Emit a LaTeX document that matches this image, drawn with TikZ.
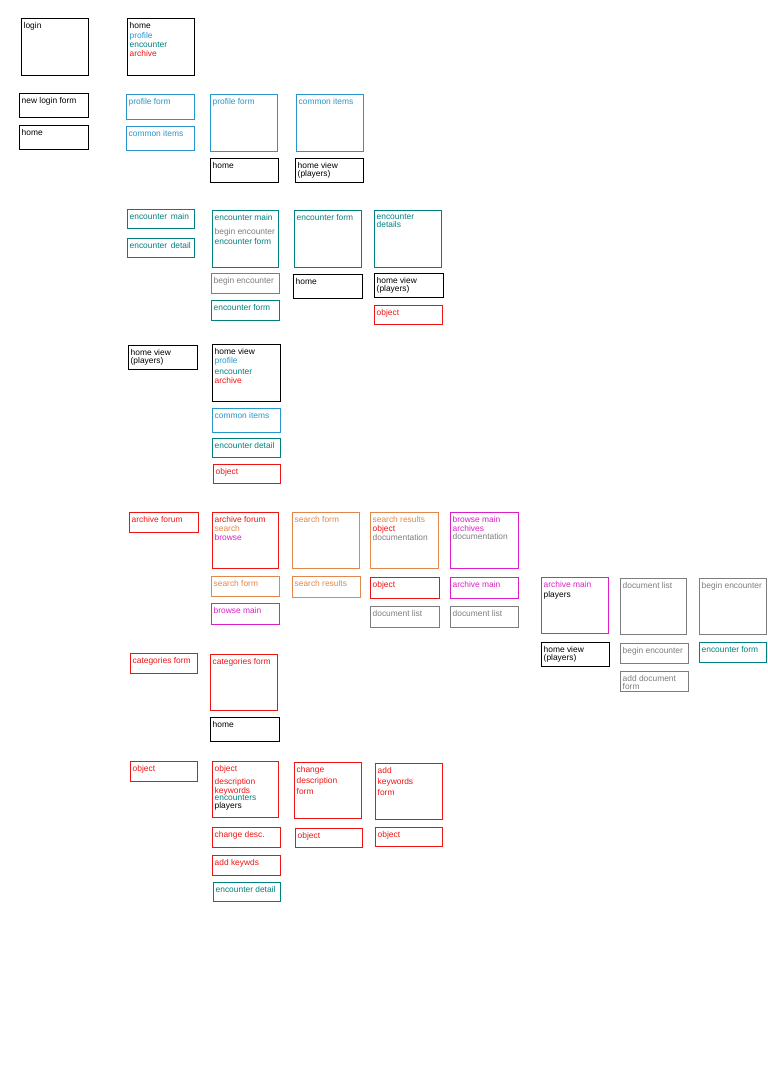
\documentclass[tikz,border=0pt]{standalone}
\usepackage{fontspec}
\setmainfont{Liberation Sans}
\definecolor{cblue}{RGB}{40,150,205}
\definecolor{cteal}{RGB}{0,128,128}
\definecolor{cred}{RGB}{238,20,20}
\definecolor{corange}{RGB}{225,135,75}
\definecolor{cmag}{RGB}{220,30,200}
\definecolor{cgray}{RGB}{125,125,125}
\definecolor{cblack}{RGB}{0,0,0}
\newcommand\mybox[7]{%
  \node[box=#6, minimum width={#4-#2}, minimum height={#5-#3}] (#1) at (#2,#3) {};
  \node[txt, text=#6] (#1-t) at ([xshift=2.5pt,yshift=-4pt]#1.north west) {#7};
}
\begin{document}
\begin{tikzpicture}[x=1pt,y=-1pt,
  box/.style={draw=#1, line width=1pt, inner sep=0pt, outer sep=0pt, anchor=north west},
  txt/.style={anchor=north west, inner sep=0pt, align=left, font=\fontsize{8.4}{9.5}\selectfont}]
\useasboundingbox[fill=white] (0,0) rectangle (768,1076);
% row 1
\mybox{login}{21}{18}{88}{75}{cblack}{login}
\mybox{homeA}{127}{18}{194}{75}{cblack}{home\\[0.5pt]{\color{cblue}profile}\\{\color{cteal}encounter}\\[-0.5pt]{\color{cred}archive}}
% row 2
\mybox{newlogin}{19}{93}{88}{117}{cblack}{new login form}
\mybox{homeB}{19}{125}{88}{149}{cblack}{home}
\mybox{profS}{126}{94}{194}{119}{cblue}{profile form}
\mybox{commS}{126}{126}{194}{150}{cblue}{common items}
\mybox{profB}{210}{94}{277}{151}{cblue}{profile form}
\mybox{commB}{296}{94}{363}{151}{cblue}{common items}
\mybox{homeC}{210}{158}{278}{182}{cblack}{home}
\mybox{hvA}{295}{158}{363}{182}{cblack}{home view\\[-1pt](players)}
% row 3
\mybox{encmainS}{127}{209}{194}{228}{cteal}{encounter\, main}
\mybox{encdetS}{127}{238}{194}{257}{cteal}{encounter\, detail}
\mybox{encmainB}{212}{210}{278}{267}{cteal}{encounter main\\[4.5pt]{\color{cgray}begin encounter}\\[1pt]encounter form}
\mybox{encformB}{294}{210}{361}{267}{cteal}{encounter form}
\mybox{encdetB}{374}{210}{441}{267}{cteal}{encounter\\[-2pt]details}
\mybox{beginencA}{211}{273}{279}{293}{cgray}{begin encounter}
\mybox{encformS}{211}{300}{279}{320}{cteal}{encounter form}
\mybox{homeD}{293}{274}{362}{298}{cblack}{home}
\mybox{hvB}{374}{273}{443}{297}{cblack}{home view\\[-1pt](players)}
\mybox{objA}{374}{305}{442}{324}{cred}{object}
% row 4
\mybox{hvC}{128}{345}{197}{369}{cblack}{home view\\[-1pt](players)}
\mybox{hvBig}{212}{344}{280}{401}{cblack}{home view\\{\color{cblue}profile}\\[1pt]{\color{cteal}encounter}\\[-0.5pt]{\color{cred}archive}}
\mybox{commC}{212}{408}{280}{432}{cblue}{common items}
\mybox{encdetC}{212}{438}{280}{457}{cteal}{encounter detail}
\mybox{objB}{213}{464}{280}{483}{cred}{object}
% row 5
\mybox{arcfS}{129}{512}{198}{532}{cred}{archive forum}
\mybox{arcfB}{212}{512}{278}{568}{cred}{archive forum\\{\color{corange}search}\\[-0.5pt]{\color{cmag}browse}}
\mybox{srchfB}{292}{512}{359}{568}{corange}{search form}
\mybox{srchrB}{370}{512}{438}{568}{corange}{search results\\[-0.5pt]{\color{cred}object}\\[-0.5pt]{\color{cgray}documentation}}
\mybox{browseB}{450}{512}{518}{568}{cmag}{browse main\\[-0.5pt]archives\\[-1pt]{\color{cgray}documentation}}
\mybox{srchfS}{211}{576}{279}{596}{corange}{search form}
\mybox{browseS}{211}{603}{279}{624}{cmag}{browse main}
\mybox{srchrS}{292}{576}{360}{597}{corange}{search results}
\mybox{objC}{370}{577}{439}{598}{cred}{object}
\mybox{arcmS}{450}{577}{518}{598}{cmag}{archive main}
\mybox{doclA}{370}{606}{439}{627}{cgray}{document list}
\mybox{doclB}{450}{606}{518}{627}{cgray}{document list}
% right group
\mybox{arcmB}{541}{577}{608}{633}{cmag}{archive main\\[0.5pt]{\color{black}players}}
\mybox{doclBig}{620}{578}{686}{634}{cgray}{document list}
\mybox{beginencB}{699}{578}{766}{634}{cgray}{begin encounter}
\mybox{hvD}{541}{642}{609}{666}{cblack}{home view\\[-1pt](players)}
\mybox{beginencC}{620}{643}{688}{663}{cgray}{begin encounter}
\mybox{encformC}{699}{642}{766}{662}{cteal}{encounter form}
\mybox{adddoc}{620}{671}{688}{691}{cgray}{add document\\[-1pt]form}
% row 6
\mybox{catS}{130}{653}{197}{673}{cred}{categories form}
\mybox{catB}{210}{654}{277}{710}{cred}{categories form}
\mybox{homeE}{210}{717}{279}{741}{cblack}{home}
% row 7
\mybox{objD}{130}{761}{197}{781}{cred}{object}
\mybox{objBig}{212}{761}{278}{817}{cred}{object\\[4pt]description\\[-1pt]keywords\\[-2pt]{\color{cteal}encounters}\\[-1.5pt]{\color{black}players}}
\mybox{chdescB}{294}{762}{361}{818}{cred}{change\\[1.5pt]description\\[1.5pt]form}
\mybox{addkwB}{375}{763}{442}{819}{cred}{add\\[1.5pt]keywords\\[1.5pt]form}
\mybox{chdescS}{212}{827}{280}{847}{cred}{change desc.}
\mybox{objE}{295}{828}{362}{847}{cred}{object}
\mybox{objF}{375}{827}{442}{846}{cred}{object}
\mybox{addkwS}{212}{855}{280}{875}{cred}{add keywds}
\mybox{encdetD}{213}{882}{280}{901}{cteal}{encounter detail}
\end{tikzpicture}
\end{document}
